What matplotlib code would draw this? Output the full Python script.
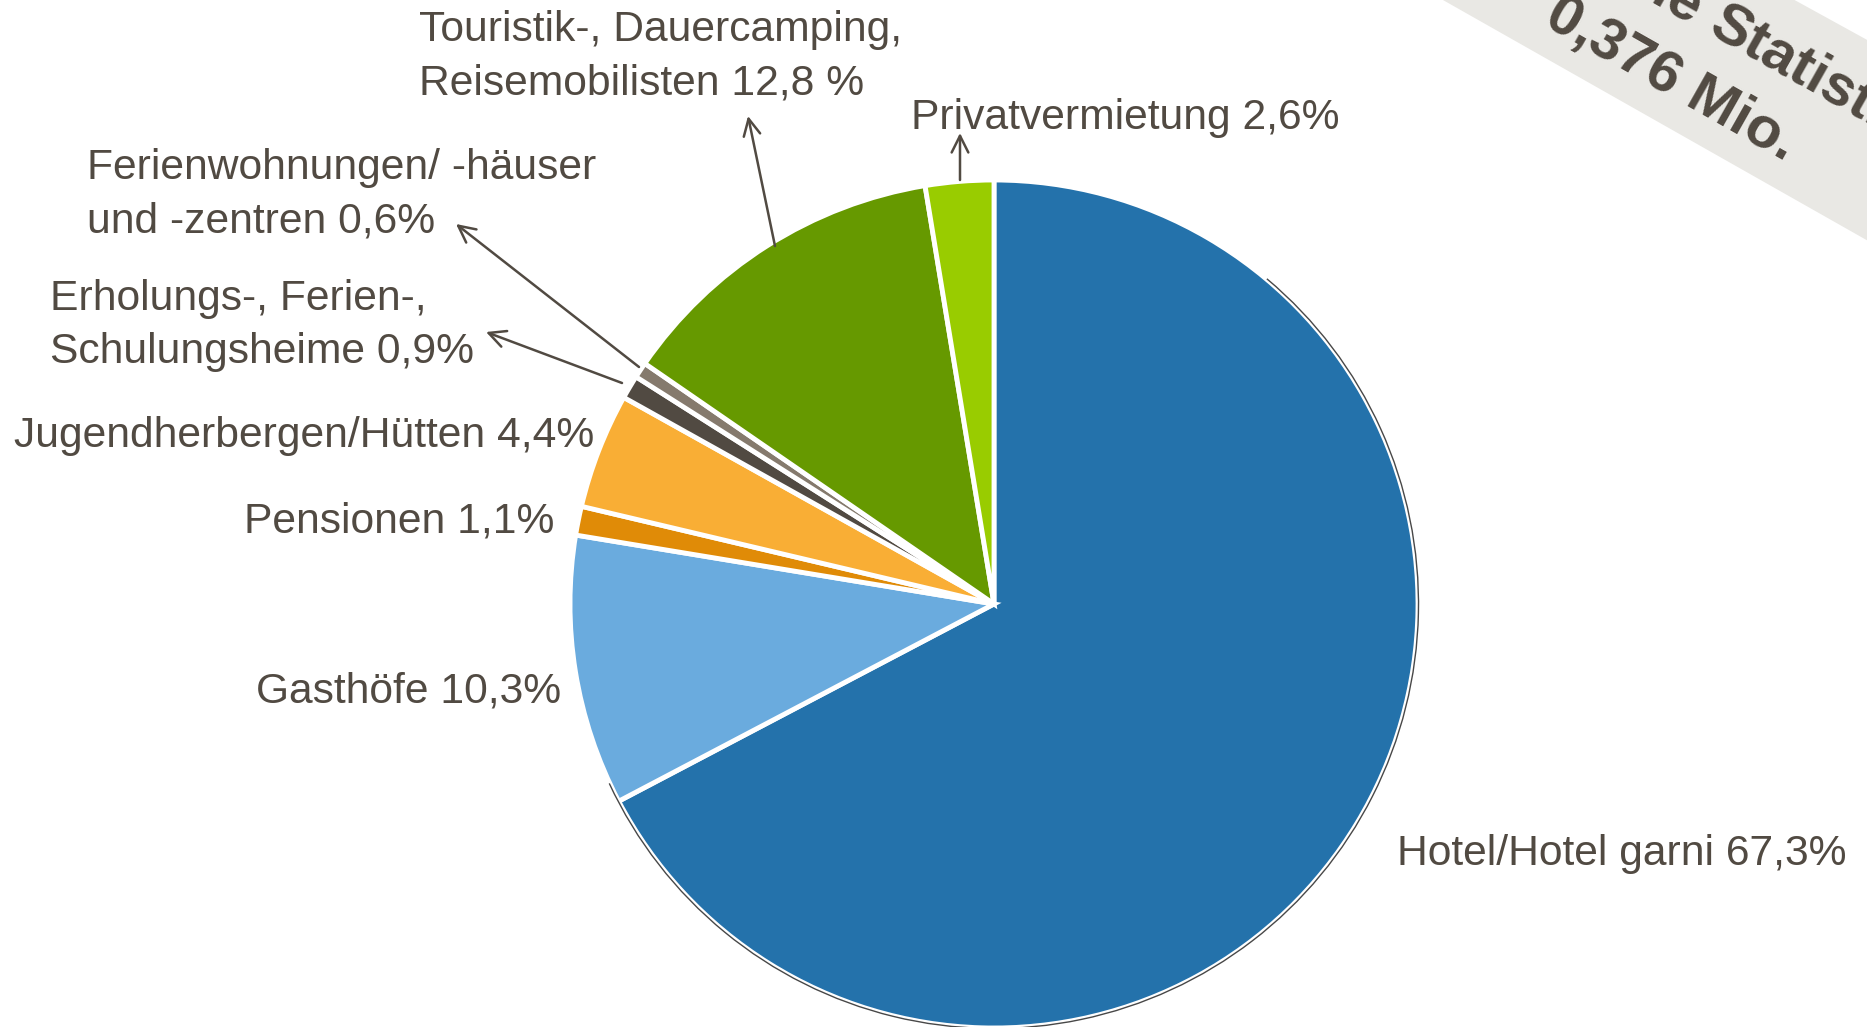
import matplotlib
matplotlib.use("Agg")
import matplotlib.pyplot as plt
from matplotlib.patches import Polygon, Arc

plt.rcParams["font.family"] = ["Liberation Sans", "DejaVu Sans"]

# share of overnight stays by type of accommodation (percent)
categories = [
    "Hotel/Hotel garni 67,3%",
    "Gasthöfe 10,3%",
    "Pensionen 1,1%",
    "Jugendherbergen/Hütten 4,4%",
    "Erholungs-, Ferien-,\nSchulungsheime 0,9%",
    "Ferienwohnungen/ -häuser\nund -zentren 0,6%",
    "Touristik-, Dauercamping,\nReisemobilisten 12,8 %",
    "Privatvermietung 2,6%",
]
shares = [67.3, 10.3, 1.1, 4.4, 0.9, 0.6, 12.8, 2.6]
colors = ["#2472ab", "#6aabde", "#e08b07", "#f9ae35",
          "#514a42", "#857a6d", "#669900", "#99cc00"]

banner_line1 = ["Amtliche", "Statistik"]
banner_line2 = "0,376 Mio."

W, H = 1867, 1027
TXT = "#514a42"


def fy(y):
    # image row -> data y
    return H - y


fig = plt.figure(figsize=(W / 100, H / 100), dpi=100)
ax = fig.add_axes([0, 0, 1, 1])

cx, cy, r = 994, 604, 424
wedges, _ = ax.pie(
    shares,
    colors=colors,
    startangle=90,
    counterclock=False,
    center=(cx, fy(cy)),
    radius=r,
    wedgeprops=dict(edgecolor="white", linewidth=3.5),
)
# thin dark rim on the big slice
ax.add_patch(Arc((cx, fy(cy)), 2 * r + 1, 2 * r + 1, theta1=205, theta2=50 + 360,
                 color="#1a1a1a", lw=1.0, alpha=0.8, zorder=3))

# label layout: (left x, first line centre y) in image pixels
label_pos = [(1397, 854), (256, 691), (244, 521), (14, 436),
             (50, 299), (87, 168), (419, 30), (911, 118)]
line_pitch = 53
for text, (lx, ly) in zip(categories, label_pos):
    for i, line in enumerate(text.split("\n")):
        ax.text(lx, fy(ly + i * line_pitch), line, fontsize=30.7, color=TXT,
                ha="left", va="center")

# arrows: (tail, tip) in image pixels
arrows = [((775, 246), (748, 116)), ((960, 180), (960, 133)),
          ((639, 367), (456, 224)), ((622, 383), (486, 332))]
for (tx, ty), (hx, hy) in arrows:
    ax.annotate("", xy=(hx, fy(hy)), xytext=(tx, fy(ty)),
                arrowprops=dict(arrowstyle="->", color=TXT, lw=1.8,
                                mutation_scale=30, shrinkA=0, shrinkB=0))

# grey diagonal banner in the top right corner
band = [(1420, -13), (1900, 259), (1900, 58), (1760, -19)]
ax.add_patch(Polygon([(x, fy(y)) for x, y in band], closed=True,
                     facecolor="#e9e8e4", edgecolor="none", zorder=4))
ang = -29.5
ax.text(1692, fy(25), banner_line1[0], fontsize=42, fontweight="bold", color=TXT,
        rotation=ang, rotation_mode="anchor", ha="right", va="baseline", zorder=5)
ax.text(1707, fy(33), banner_line1[1], fontsize=42, fontweight="bold", color=TXT,
        rotation=ang, rotation_mode="anchor", ha="left", va="baseline", zorder=5)
ax.text(1785, fy(162), banner_line2, fontsize=42, fontweight="bold", color=TXT,
        rotation=ang, rotation_mode="anchor", ha="right", va="baseline", zorder=5)

ax.set_xlim(0, W)
ax.set_ylim(0, H)
ax.set_aspect("equal")
ax.axis("off")

fig.savefig("out.png", dpi=100)
